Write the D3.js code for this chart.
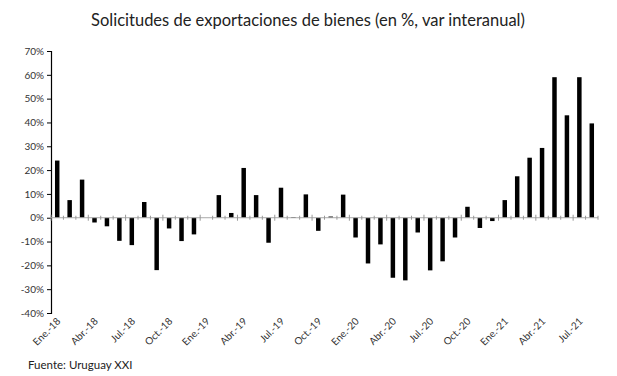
<!DOCTYPE html>
<html><head><meta charset="utf-8">
<script src="https://cdn.jsdelivr.net/npm/d3@7"></script>
<style>body{margin:0;background:#fff}svg{display:block}</style>
</head><body><svg id="c" width="617" height="376"></svg>
<script>
const months = ["Ene.","Feb.","Mar.","Abr.","May.","Jun.","Jul.","Ago.","Sep.","Oct.","Nov.","Dic."];
const categories = [];
for (const y of ["18","19","20","21"]) for (const m of months) categories.push(m + "-" + y);
categories.length = 44;
const values = [24, 7.4, 16, -2, -3.6, -9.7, -11.5, 6.6, -22, -4.5, -9.8, -7,
  0, 9.5, 2, 20.9, 9.5, -10.5, 12.6, 0.3, 9.8, -5.5, 0.5, 9.7,
  -8.3, -19.2, -11.2, -25.2, -26.3, -6.2, -22.1, -18.3, -8.3, 4.6, -4.3, -1.4,
  7.4, 17.4, 25.2, 29.3, 59, 43, 59, 39.6];
const yTicks = [-40,-30,-20,-10,0,10,20,30,40,50,60,70];
const title = "Solicitudes de exportaciones de bienes (en %, var interanual)";
const source = "Fuente: Uruguay XXI";

const svg = d3.select("#c");
const font = "Lato, 'Open Sans', sans-serif";
const x = d3.scaleBand().domain(categories).range([51, 598]).paddingInner(0.64).paddingOuter(0.32);
const xb = d3.scaleLinear().domain([0, categories.length]).range([51, 598]);
const y = d3.scaleLinear().domain([-40, 70]).range([313, 51]);

svg.append("text").attr("x", 308).attr("y", 26).attr("text-anchor", "middle")
  .attr("font-family", font).attr("font-size", 16.5).attr("fill", "#222").text(title);

// y axis
const ya = svg.append("g").attr("transform", "translate(51,0)")
  .call(d3.axisLeft(y).tickValues(yTicks).tickFormat(d => d + "%").tickSize(4).tickPadding(3));
ya.select(".domain").attr("stroke", "#000").attr("stroke-width", 1.2);
ya.selectAll(".tick line").attr("stroke", "#000");
ya.selectAll("text").attr("font-family", font).attr("font-size", 10).attr("fill", "#333");

// bars
svg.append("g").selectAll("rect").data(values).join("rect")
  .attr("x", (d, i) => x(categories[i]))
  .attr("width", x.bandwidth())
  .attr("y", d => y(Math.max(0, d)))
  .attr("height", d => Math.abs(y(d) - y(0)))
  .attr("fill", "#000");

// x axis line + minor ticks
const z = y(0);
svg.append("line").attr("x1", 51).attr("x2", 598).attr("y1", z).attr("y2", z)
  .attr("stroke", "#aaa").attr("stroke-width", 1);
svg.append("g").selectAll("line").data(d3.range(categories.length + 1)).join("line")
  .attr("x1", d => xb(d)).attr("x2", d => xb(d))
  .attr("y1", d => d % 3 === 0 ? z - 3 : z - 2).attr("y2", d => d % 3 === 0 ? z + 3 : z + 2)
  .attr("stroke", "#999").attr("stroke-width", 1);

// x labels
svg.append("g").selectAll("text").data(categories.filter((c, i) => i % 3 === 0)).join("text")
  .attr("transform", d => `translate(${x(d) + x.bandwidth() / 2 + 4},322) rotate(-45)`)
  .attr("text-anchor", "end")
  .attr("font-family", font).attr("font-size", 10).attr("fill", "#333").text(d => d);

svg.append("text").attr("x", 28).attr("y", 369)
  .attr("font-family", font).attr("font-size", 11.5).attr("fill", "#222").text(source);
</script></body></html>
